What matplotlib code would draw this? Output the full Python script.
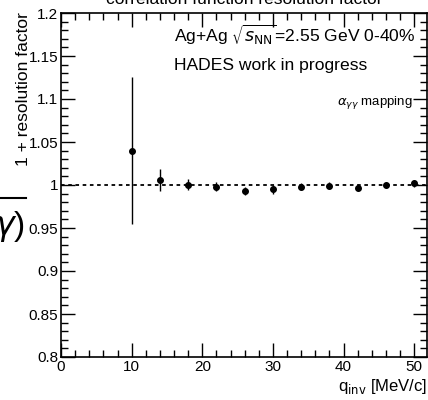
import numpy as np
import matplotlib.pyplot as plt
from matplotlib.ticker import MultipleLocator

plt.rcParams['font.family'] = ['Liberation Sans', 'DejaVu Sans']

qinv = [10, 14, 18, 22, 26, 30, 34, 38, 42, 46, 50]
factor = [1.040, 1.006, 1.0005, 0.998, 0.993, 0.995, 0.998, 0.999, 0.997, 1.000, 1.002]
err = [0.085, 0.013, 0.006, 0.005, 0.005, 0.005, 0.004, 0.004, 0.004, 0.004, 0.004]

fig = plt.figure(figsize=(4.28, 4.0), dpi=100)
ax = fig.add_axes([0.1425, 0.1075, 0.855, 0.86])

ax.errorbar(qinv, factor, yerr=err, fmt='o', color='black', ms=4, elinewidth=1, capsize=0)
ax.axhline(1.0, color='black', ls=(0, (2, 2)), lw=1.3)

ax.set_xlim(0, 51.8)
ax.set_ylim(0.8, 1.2)
ax.xaxis.set_major_locator(MultipleLocator(10))
ax.xaxis.set_minor_locator(MultipleLocator(2))
ax.yaxis.set_minor_locator(MultipleLocator(0.01))
ax.set_yticks([0.8, 0.85, 0.9, 0.95, 1.0, 1.05, 1.1, 1.15, 1.2])
ax.set_yticklabels(['0.8', '0.85', '0.9', '0.95', '1', '1.05', '1.1', '1.15', '1.2'])
ax.tick_params(which='both', direction='in', top=True, right=True, labelsize=11, pad=2)
ax.tick_params(which='major', length=10, width=1)
ax.tick_params(which='minor', length=5, width=1)
for s in ax.spines.values():
    s.set_linewidth(1.2)

ax.text(0.31, 0.916, r'Ag+Ag $\sqrt{s_{\mathrm{NN}}}$=2.55 GeV 0-40%', transform=ax.transAxes,
        fontsize=12.6, va='baseline')
ax.text(0.31, 0.834, 'HADES work in progress', transform=ax.transAxes, fontsize=12.6, va='baseline')
ax.text(0.962, 0.733, r'$\alpha_{\gamma\gamma}$ mapping', transform=ax.transAxes, fontsize=9.5,
        ha='right', va='baseline')

fig.text(0.999, 0.035, r'q$_{\mathrm{inv}}$ [MeV/c]', ha='right', va='center', fontsize=12)
fig.text(0.055, 0.97, '1 + resolution factor', rotation=90, ha='center', va='top', fontsize=12.5)
fig.text(0.57, 1.0, 'correlation function resolution factor', ha='center', va='center', fontsize=12.5)

# fragment of neighbouring figure at left edge
fig.lines.append(plt.Line2D([0.0, 0.061], [0.505, 0.505], transform=fig.transFigure, color='black', lw=1.5))
fig.text(0.058, 0.435, r'$\gamma$)', ha='right', va='center', fontsize=24)

fig.savefig('out.png', dpi=100)
